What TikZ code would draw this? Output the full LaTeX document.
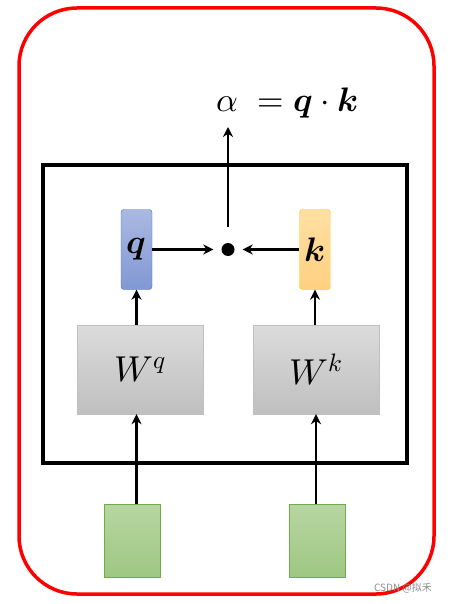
\documentclass[tikz,border=0pt]{standalone}
\usepackage{amsmath}
\usepackage{fontspec}
\usepackage{unicode-math}
\usepackage{xcolor}
\usetikzlibrary{arrows.meta}
\setmathfont{Latin Modern Math}
\newfontfamily\cjkfont{Noto Sans CJK SC}
\definecolor{qblue}{HTML}{4472C4}
\definecolor{kgold}{HTML}{FFC000}
\definecolor{ingreen}{HTML}{70AD47}
\tikzset{
    vec-box/.style = {rectangle, rounded corners=3pt, thin, minimum width=31pt, minimum height=80pt, inner sep=0pt, font=\fontsize{34}{40}\selectfont},
    q-box/.style = {vec-box, draw=qblue, top color={rgb,255:red,170;green,185;blue,226}, bottom color={rgb,255:red,130;green,152;blue,212}},
    k-box/.style = {vec-box, draw=kgold, top color={rgb,255:red,255;green,224;blue,163}, bottom color={rgb,255:red,255;green,208;blue,128}},
    weight-box/.style = {rectangle, draw=black!25, top color=black!14, bottom color=black!25, minimum width=126pt, minimum height=89pt, inner sep=0pt, font=\fontsize{36}{42}\selectfont},
    input-box/.style = {rectangle, draw=ingreen, thin, top color=ingreen!50, bottom color=ingreen!68, minimum width=56pt, minimum height=73pt, inner sep=0pt},
    flow/.style = {line width=2.8pt, -{Stealth[length=10pt,width=10pt]}},
}
\begin{document}
\begin{tikzpicture}[x=1pt,y=-1pt]
\useasboundingbox (0,0) rectangle (453,604);
% outer frames
\draw[red, line width=3.5pt, rounded corners=58pt] (19,8) rectangle (434,594);
\draw[black, line width=4pt] (43,165) rectangle (407,463);
% inputs and weights
\node[input-box] (in-q) at (132,540.5) {};
\node[input-box] (in-k) at (317,540.5) {};
\node[weight-box] (w-q) at (140,369.5) {$W^{q}$};
\node[weight-box] (w-k) at (316,369.5) {$W^{k}$};
% query and key
\node[q-box] (q-vec) at (136.5,249.5) {$\symbfit{q}$};
\node[k-box] (k-vec) at (315,249.5) {$\symbfit{k}$};
\node[circle, fill=black, inner sep=0pt, minimum size=13pt] (dot) at (228,249.5) {};
\node[anchor=west, font=\fontsize{34}{40}\selectfont] (score) at (213,103) {$\alpha\;=\symbfit{q}\cdot\symbfit{k}$};
\coordinate (score-in) at (228,127);
% connectors
\draw[flow] (in-q.north -| q-vec) -- (w-q.south -| q-vec);
\draw[flow] (in-k.north -| w-k) -- (w-k.south);
\draw[flow] (w-q.north -| q-vec) -- (q-vec.south);
\draw[flow] (w-k.north -| k-vec) -- (k-vec.south);
\draw[flow, shorten >=8pt] (q-vec.east) -- (dot);
\draw[flow, shorten >=8pt] (k-vec.west) -- (dot);
\draw[flow, shorten <=16pt] (dot) -- (score-in);
% watermark
\node[text=black!45, font=\cjkfont\fontsize{10}{12}\selectfont] (mark) at (403,588) {CSDN @拟禾};
\end{tikzpicture}
\end{document}
